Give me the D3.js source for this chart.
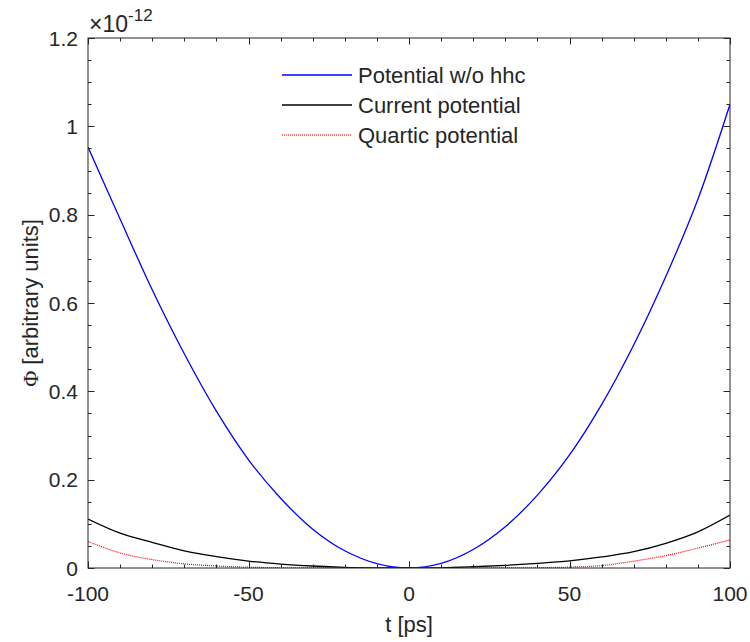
<!DOCTYPE html>
<html>
<head>
<meta charset="utf-8">
<script src="https://cdn.jsdelivr.net/npm/d3@7/dist/d3.min.js"></script>
<style>
  html, body { margin: 0; padding: 0; background: #fff; }
  text { font-family: "Liberation Sans", Arial, sans-serif; fill: #262626; }
</style>
</head>
<body>
<svg id="chart" width="750" height="642"></svg>
<script>
// ---- data (values in units of 1e-12) ----
const tValues = [-100,-90,-80,-70,-60,-50,-40,-30,-20,-10,0,10,20,30,40,50,60,70,80,90,100];
const potentialNoHhc = [0.953,0.79,0.63,0.485,0.355,0.245,0.158,0.088,0.039,0.0098,0,0.0105,0.042,0.0935,0.165,0.256,0.37,0.505,0.66,0.835,1.05];
const currentPotential = [0.111,0.079,0.058,0.039,0.026,0.0158,0.009,0.0045,0.0015,0.0003,0,0.0004,0.0028,0.006,0.0105,0.0162,0.025,0.037,0.056,0.082,0.12];
const quarticPotential = [0.06,0.034,0.019,0.0095,0.0045,0.0018,0.0006,0.0002,0,0,0,0,0,0.0002,0.0007,0.002,0.0055,0.0155,0.028,0.045,0.0635];
const seriesNames = ["Potential w/o hhc","Current potential","Quartic potential"];
const seriesColors = ["#0000ff","#000000","#ff0000"];
const xTickLabels = [-100,-50,0,50,100];
const yTickLabels = [0,0.2,0.4,0.6,0.8,1,1.2];

const svg = d3.select("#chart");
const L = 88, R = 730, T = 38, B = 568;
const x = d3.scaleLinear().domain([-100,100]).range([L,R]);
const y = d3.scaleLinear().domain([0,1.2]).range([B,T]);
const axisColor = "#262626";

svg.append("defs").append("clipPath").attr("id","clip")
  .append("rect").attr("x",L).attr("y",T).attr("width",R-L).attr("height",B-T);

const line = d3.line().x(d => x(d[0])).y(d => y(d[1])).curve(d3.curveCatmullRom.alpha(0.5));
const allSeries = [potentialNoHhc, currentPotential, quarticPotential];
const g = svg.append("g").attr("clip-path","url(#clip)");
[2,1,0].forEach(i => {
  g.append("path")
    .datum(tValues.map((t,k) => [t, allSeries[i][k]]))
    .attr("d", line)
    .attr("fill","none")
    .attr("stroke", seriesColors[i])
    .attr("stroke-width", i===2 ? 1.2 : 1.3)
    .attr("stroke-dasharray", i===2 ? "1,1" : null);
});

svg.append("rect").attr("x",L).attr("y",T).attr("width",R-L).attr("height",B-T)
  .attr("fill","none").attr("stroke",axisColor).attr("stroke-width",1);

const xMinor = d3.range(-100,101,10);
const yMinor = d3.range(0,1.2001,0.05).map(v => +v.toFixed(2));
const isMajorX = v => xTickLabels.includes(v);
const isMajorY = v => yTickLabels.some(m => Math.abs(m-v)<1e-6);
const tk = svg.append("g").attr("stroke",axisColor).attr("stroke-width",1);
xMinor.forEach(v => {
  const len = isMajorX(v) ? 6.5 : 3.5;
  const px = Math.round(x(v))+0.5;
  tk.append("line").attr("x1",px).attr("x2",px).attr("y1",B).attr("y2",B-len);
  tk.append("line").attr("x1",px).attr("x2",px).attr("y1",T).attr("y2",T+len);
});
yMinor.forEach(v => {
  const len = isMajorY(v) ? 6.5 : 3.5;
  const py = Math.round(y(v))+0.5;
  tk.append("line").attr("y1",py).attr("y2",py).attr("x1",L).attr("x2",L+len);
  tk.append("line").attr("y1",py).attr("y2",py).attr("x1",R).attr("x2",R-len);
});

xTickLabels.forEach(v => {
  svg.append("text").attr("x", x(v)).attr("y", 601)
    .attr("text-anchor","middle").attr("font-size",21)
    .text(v < 0 ? "-" + Math.abs(v) : v);
});
yTickLabels.forEach(v => {
  svg.append("text").attr("x", 78).attr("y", y(v)+7.5)
    .attr("text-anchor","end").attr("font-size",21)
    .text(v);
});

const ex = svg.append("text").attr("x",89).attr("y",32).attr("font-size",23);
ex.append("tspan").text("\u00d710");
ex.append("tspan").attr("font-size",17).attr("dy",-11).text("-12");

svg.append("text").attr("x",(L+R)/2).attr("y",632).attr("text-anchor","middle")
  .attr("font-size",22).text("t [ps]");
const yl = svg.append("text").attr("transform","translate(38,303) rotate(-90)")
  .attr("text-anchor","middle").attr("font-size",22);
yl.append("tspan").attr("font-family","'Liberation Serif', 'Times New Roman', serif").text("\u03a6");
yl.append("tspan").text(" [arbitrary units]");

const legY = [75, 105, 135];
seriesNames.forEach((name,i) => {
  svg.append("line").attr("x1",282).attr("x2",352).attr("y1",legY[i]).attr("y2",legY[i])
    .attr("stroke",seriesColors[i]).attr("stroke-width",i===2?1.2:1.3)
    .attr("stroke-dasharray", i===2 ? "1,1" : null);
  svg.append("text").attr("x",358).attr("y",legY[i]+8).attr("font-size",22).text(name);
});
</script>
</body>
</html>
